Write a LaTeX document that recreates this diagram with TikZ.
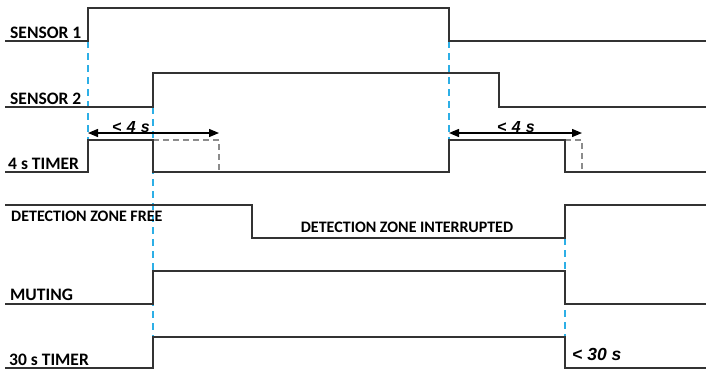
\documentclass[tikz,border=0pt]{standalone}
\usepackage{fontspec}
\setmainfont{Carlito}
\newfontfamily\timefont{Liberation Sans}
\usetikzlibrary{arrows.meta,positioning}
\definecolor{guideblue}{RGB}{45,175,230}

\begin{document}
\begin{tikzpicture}[x=1pt,y=-1pt,
  sig/.style={draw=black!80,line width=1.4pt},
  mark line/.style={draw=guideblue,line width=1.3pt,dash pattern=on 7pt off 5pt},
  ghost/.style={draw=black!45,line width=1.1pt,dash pattern=on 6pt off 4pt},
  lbl/.style={anchor=base west,inner sep=0pt,font=\fontsize{17.5}{19}\selectfont\bfseries},
  zone/.style={lbl,font=\fontsize{16}{18}\selectfont\bfseries},
  tm/.style={inner sep=0pt,font=\timefont\fontsize{16}{18}\selectfont\bfseries\itshape},
  span/.style={{Triangle[length=10pt,width=8pt]}-{Triangle[length=10pt,width=8pt]},line width=1.3pt,black}]
\useasboundingbox (0,0) rectangle (706,373);
% instants
\coordinate (a1) at (88,41);   \coordinate (a2) at (88,172);
\coordinate (b1) at (153,107); \coordinate (b2) at (153,337);
\coordinate (e1) at (449,41);  \coordinate (e2) at (449,140);
\coordinate (g1) at (565,238); \coordinate (g2) at (565,337);
\coordinate (w1a) at (88,133); \coordinate (w1b) at (219,133);
\coordinate (w2a) at (449,133); \coordinate (w2b) at (582,133);
% guide lines
\draw[mark line] (a1)--(a2);
\draw[mark line] (b1)--(b2);
\draw[mark line] (e1)--(e2);
\draw[mark line] (g1)--(g2);
% lapsed timers
\draw[ghost] (153,140) -| (219,172);
\draw[ghost] (565,140) -| (582,172);
% signals
\draw[sig] (5,41) -| (88,8) -| (449,41) -- (706,41);
\draw[sig] (5,107) -| (153,73) -| (499,107) -- (706,107);
\draw[sig] (5,172) -| (88,140) -| (153,172) -| (449,140) -| (565,172) -- (706,172);
\draw[sig] (5,205) -| (252,238) -| (565,205) -- (706,205);
\draw[sig] (5,304) -| (153,271) -| (565,304) -- (706,304);
\draw[sig] (5,368) -| (153,337) -| (565,368) -- (706,368);
% labels
\node[lbl] (s1) at (10,38) {SENSOR 1};
\node[lbl] (s2) at (10,104) {SENSOR 2};
\node[lbl] (t4) at (8,169) {4 s TIMER};
\node[zone] (zf) at (11,221) {DETECTION ZONE FREE};
\node[zone,anchor=base] (zi) at (407,232) {DETECTION ZONE INTERRUPTED};
\node[lbl] (mu) at (10,300) {MUTING};
\node[lbl] (t30) at (9,365) {30 s TIMER};
% windows
\draw[span] (w1a)--(w1b);
\draw[span] (w2a)--(w2b);
\node[tm,anchor=base] (l1) at (131,132) {<\,\,4\,\,s};
\node[tm,anchor=base] (l2) at (516,132) {<\,\,4\,\,s};
\node[tm,anchor=base west,font=\timefont\fontsize{17.5}{19}\selectfont\bfseries\itshape] (l3) at (572,360) {< 30 s};
\end{tikzpicture}
\end{document}
